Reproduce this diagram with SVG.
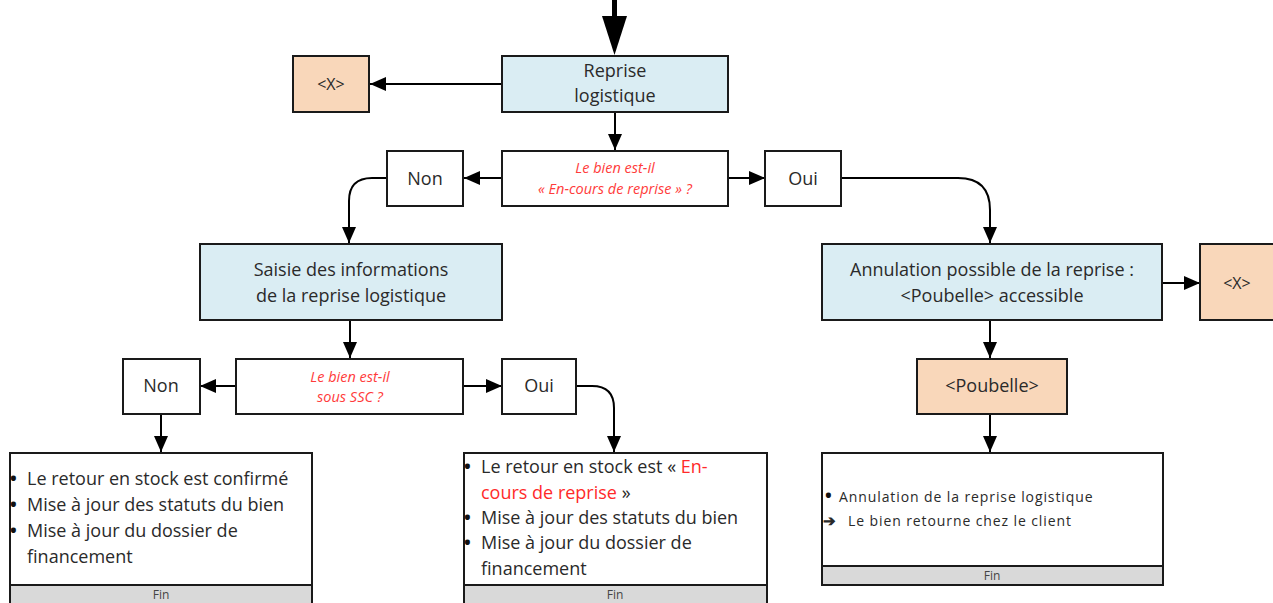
<svg xmlns="http://www.w3.org/2000/svg" width="1273" height="603" viewBox="0 0 1273 603">
<defs>
<style>
.box{stroke:#1a1a1a;stroke-width:2}
.blue{fill:#DAEDF3}
.peach{fill:#F9D7BA}
.white{fill:#ffffff}
.fin{fill:#D9D9D9;stroke:#1a1a1a;stroke-width:2}
.t{font-family:"Open Sans","Noto Sans","Liberation Sans",sans-serif;fill:#2a2a2a}
.c{text-anchor:middle}
.lg{font-size:18px}
.b{font-family:"Open Sans","Noto Sans","Liberation Sans",sans-serif;font-size:18px;font-weight:bold;fill:#111}
.q{font-family:"Open Sans","Noto Sans","Liberation Sans",sans-serif;font-style:italic;font-size:14.5px;fill:#ff3b3b;text-anchor:middle}
.sm{font-size:12px;fill:#444}
.red{fill:#ff2a2a}
.conn{fill:none;stroke:#000;stroke-width:2}
</style>
<marker id="ah" viewBox="0 0 16 14" refX="16" refY="7" markerWidth="16" markerHeight="14" markerUnits="userSpaceOnUse" orient="auto">
<path d="M0,0 L16,7 L0,14 z" fill="#000"/>
</marker>
</defs>
<rect width="1273" height="603" fill="#ffffff"/>

<g id="connectors">
<rect x="612" y="0" width="5" height="18" fill="#000"/>
<polygon points="602,16 627,16 614.5,55" fill="#000"/>
<line class="conn" x1="502" y1="84" x2="370" y2="84" marker-end="url(#ah)"/>
<line class="conn" x1="615" y1="112" x2="615" y2="150" marker-end="url(#ah)"/>
<line class="conn" x1="502" y1="178" x2="464" y2="178" marker-end="url(#ah)"/>
<line class="conn" x1="728" y1="178" x2="765" y2="178" marker-end="url(#ah)"/>
<path class="conn" d="M387,178 H372 Q349,178 349,201 V243" marker-end="url(#ah)"/>
<path class="conn" d="M841,178 H958 Q990,178 990,210 V243" marker-end="url(#ah)"/>
<line class="conn" x1="1162" y1="283" x2="1200" y2="283" marker-end="url(#ah)"/>
<line class="conn" x1="990" y1="320" x2="990" y2="358" marker-end="url(#ah)"/>
<line class="conn" x1="990" y1="414" x2="990" y2="452" marker-end="url(#ah)"/>
<line class="conn" x1="350" y1="320" x2="350" y2="358" marker-end="url(#ah)"/>
<line class="conn" x1="236" y1="386" x2="200" y2="386" marker-end="url(#ah)"/>
<line class="conn" x1="463" y1="386" x2="502" y2="386" marker-end="url(#ah)"/>
<line class="conn" x1="161" y1="414" x2="161" y2="452" marker-end="url(#ah)"/>
<path class="conn" d="M576,386 H592 Q614,386 614,408 V452" marker-end="url(#ah)"/>
</g>

<g id="reprise">
<rect class="box blue" x="502" y="56" width="226" height="56"/>
<text class="t c lg" x="615" y="77">Reprise</text>
<text class="t c lg" x="615" y="102">logistique</text>
</g>

<g id="x-left">
<rect class="box peach" x="293" y="56" width="76" height="56"/>
<text class="t c" font-size="16" x="331" y="90">&lt;X&gt;</text>
</g>

<g id="decision-encours">
<rect class="box white" x="502" y="151" width="226" height="55"/>
<text class="q" x="615" y="173">Le bien est-il</text>
<text class="q" x="615" y="194">« En-cours de reprise » ?</text>
</g>

<g id="non-top">
<rect class="box white" x="387" y="151" width="76" height="55"/>
<text class="t c lg" x="425" y="185">Non</text>
</g>

<g id="oui-top">
<rect class="box white" x="765" y="151" width="76" height="55"/>
<text class="t c lg" x="803" y="185">Oui</text>
</g>

<g id="saisie">
<rect class="box blue" x="200" y="244" width="302" height="76"/>
<text class="t c lg" x="351" y="276">Saisie des informations</text>
<text class="t c lg" x="351" y="302">de la reprise logistique</text>
</g>

<g id="annulation">
<rect class="box blue" x="822" y="244" width="340" height="76"/>
<text class="t c lg" x="992" y="276">Annulation possible de la reprise :</text>
<text class="t c lg" x="992" y="302">&lt;Poubelle&gt; accessible</text>
</g>

<g id="x-right">
<rect class="box peach" x="1200" y="244" width="76" height="76"/>
<text class="t c" font-size="16" x="1237" y="289">&lt;X&gt;</text>
</g>

<g id="poubelle">
<rect class="box peach" x="917" y="359" width="150" height="55"/>
<text class="t c lg" x="992" y="392">&lt;Poubelle&gt;</text>
</g>

<g id="decision-ssc">
<rect class="box white" x="236" y="359" width="227" height="55"/>
<text class="q" x="350" y="382">Le bien est-il</text>
<text class="q" x="350" y="402">sous SSC ?</text>
</g>

<g id="non-bottom">
<rect class="box white" x="123" y="359" width="77" height="55"/>
<text class="t c lg" x="161" y="392">Non</text>
</g>

<g id="oui-bottom">
<rect class="box white" x="502" y="359" width="74" height="55"/>
<text class="t c lg" x="539" y="392">Oui</text>
</g>

<g id="fin-left">
<rect class="box white" x="10" y="453" width="302" height="160"/>
<rect class="fin" x="10" y="585" width="302" height="28"/>
<text class="b" x="10" y="485">•</text>
<text class="t lg" x="27" y="485">Le retour en stock est confirmé</text>
<text class="b" x="10" y="511">•</text>
<text class="t lg" x="27" y="511">Mise à jour des statuts du bien</text>
<text class="b" x="10" y="537">•</text>
<text class="t lg" x="27" y="537">Mise à jour du dossier de</text>
<text class="t lg" x="27" y="563">financement</text>
<text class="t c sm" x="161" y="599">Fin</text>
</g>

<g id="fin-middle">
<rect class="box white" x="464" y="453" width="303" height="160"/>
<rect class="fin" x="464" y="585" width="303" height="28"/>
<text class="b" x="464" y="473">•</text>
<text class="t lg" x="481" y="473">Le retour en stock est « <tspan class="red">En-</tspan></text>
<text class="t lg" x="481" y="499"><tspan class="red">cours de reprise</tspan> »</text>
<text class="b" x="464" y="524">•</text>
<text class="t lg" x="481" y="524">Mise à jour des statuts du bien</text>
<text class="b" x="464" y="549">•</text>
<text class="t lg" x="481" y="549">Mise à jour du dossier de</text>
<text class="t lg" x="481" y="575">financement</text>
<text class="t c sm" x="615" y="599">Fin</text>
</g>

<g id="fin-right">
<rect class="box white" x="822" y="453" width="341" height="132"/>
<rect class="fin" x="822" y="566" width="341" height="19"/>
<text class="b" font-size="15" x="825" y="502">•</text>
<text class="t" font-size="14" letter-spacing="0.9" x="839" y="502">Annulation de la reprise logistique</text>
<text class="t" font-size="15" font-weight="bold" x="823" y="526" fill="#111">➔</text>
<text class="t" font-size="14" letter-spacing="0.9" x="848" y="526">Le bien retourne chez le client</text>
<text class="t c sm" x="992" y="580">Fin</text>
</g>
</svg>
